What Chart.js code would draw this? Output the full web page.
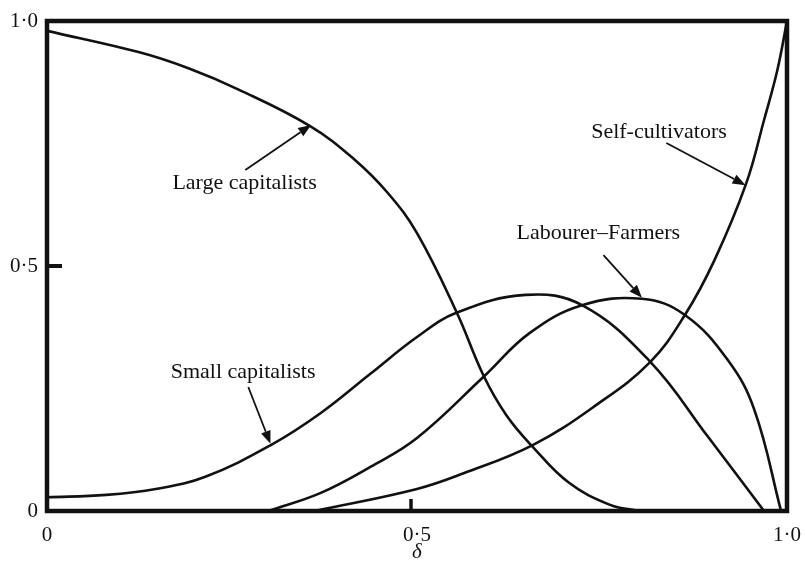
<!DOCTYPE html>
<html>
<head>
<meta charset="utf-8">
<script src="https://cdn.jsdelivr.net/npm/chart.js@4.4.0/dist/chart.umd.min.js"></script>
<style>
  html, body { margin: 0; padding: 0; background: #fff; }
  #wrap { width: 805px; height: 565px; }
</style>
</head>
<body>
<div id="wrap"><canvas id="classes"></canvas></div>
<script>
// values (delta on x, share on y)
const largeX = [0, 0.125, 0.192, 0.259, 0.355, 0.415, 0.46, 0.5, 0.554, 0.59, 0.621, 0.657, 0.705, 0.76, 0.80];
const largeY = [0.98, 0.936, 0.903, 0.86, 0.786, 0.718, 0.65, 0.567, 0.404, 0.276, 0.195, 0.13, 0.058, 0.013, 0];

const smallX = [0, 0.08, 0.147, 0.214, 0.303, 0.37, 0.437, 0.5, 0.554, 0.647, 0.723, 0.815, 0.893, 0.969];
const smallY = [0.028, 0.033, 0.045, 0.07, 0.135, 0.2, 0.28, 0.355, 0.405, 0.441, 0.42, 0.305, 0.152, 0];

const labX = [0.299, 0.37, 0.437, 0.5, 0.59, 0.652, 0.723, 0.804, 0.862, 0.92, 0.956, 0.992];
const labY = [0, 0.037, 0.09, 0.149, 0.274, 0.363, 0.42, 0.433, 0.4, 0.308, 0.206, 0];

const selfX = [0.362, 0.5, 0.563, 0.657, 0.741, 0.815, 0.862, 0.902, 0.945, 0.969, 0.987, 1.0];
const selfY = [0, 0.045, 0.077, 0.135, 0.215, 0.304, 0.4, 0.512, 0.669, 0.798, 0.9, 1.0];

const tickValues = [0, 0.5, 1];
const tickText = ['0', '0·5', '1·0'];

// labels with arrows, in data units
const notes = [
  { text: 'Large capitalists', at: [0.267, 0.669], from: [0.268, 0.696], to: [0.357, 0.788] },
  { text: 'Self-cultivators', at: [0.827, 0.773], from: [0.837, 0.751], to: [0.944, 0.665] },
  { text: 'Labourer–Farmers', at: [0.745, 0.567], from: [0.752, 0.522], to: [0.804, 0.435] },
  { text: 'Small capitalists', at: [0.265, 0.284], from: [0.272, 0.253], to: [0.302, 0.137] }
];

const serif = '"Liberation Serif", "DejaVu Serif", serif';
const ink = '#111';

function pts(xs, ys) {
  return xs.map((x, i) => ({ x: x, y: ys[i] }));
}

function curve(label, xs, ys) {
  return {
    label: label,
    data: pts(xs, ys),
    borderColor: ink,
    borderWidth: 2.6,
    pointRadius: 0,
    fill: false,
    showLine: true,
    tension: 0.4
  };
}

const frameAndNotes = {
  id: 'frameAndNotes',
  afterDatasetsDraw(chart) {
    const ctx = chart.ctx;
    const a = chart.chartArea;
    const sx = chart.scales.x, sy = chart.scales.y;
    ctx.save();
    ctx.strokeStyle = ink;
    ctx.fillStyle = ink;
    ctx.lineWidth = 4.5;
    ctx.lineJoin = 'miter';
    ctx.strokeRect(a.left, a.top, a.right - a.left, a.bottom - a.top);

    // inward ticks at 0.5
    ctx.lineWidth = 4;
    const ty = sy.getPixelForValue(0.5);
    ctx.beginPath();
    ctx.moveTo(a.left, ty);
    ctx.lineTo(a.left + 15, ty);
    ctx.stroke();
    ctx.lineWidth = 3.5;
    const tx = sx.getPixelForValue(0.5) - 6;
    ctx.beginPath();
    ctx.moveTo(tx, a.bottom);
    ctx.lineTo(tx, a.bottom - 12);
    ctx.stroke();

    ctx.font = '22px ' + serif;
    ctx.textAlign = 'center';
    ctx.textBaseline = 'middle';
    notes.forEach(n => {
      ctx.fillText(n.text, sx.getPixelForValue(n.at[0]), sy.getPixelForValue(n.at[1]));
      const x1 = sx.getPixelForValue(n.from[0]), y1 = sy.getPixelForValue(n.from[1]);
      const x2 = sx.getPixelForValue(n.to[0]), y2 = sy.getPixelForValue(n.to[1]);
      const ang = Math.atan2(y2 - y1, x2 - x1);
      const hl = 13, hw = 5;
      ctx.lineWidth = 1.8;
      ctx.beginPath();
      ctx.moveTo(x1, y1);
      ctx.lineTo(x2 - hl * Math.cos(ang), y2 - hl * Math.sin(ang));
      ctx.stroke();
      ctx.beginPath();
      ctx.moveTo(x2, y2);
      ctx.lineTo(x2 - hl * Math.cos(ang) + hw * Math.sin(ang), y2 - hl * Math.sin(ang) - hw * Math.cos(ang));
      ctx.lineTo(x2 - hl * Math.cos(ang) - hw * Math.sin(ang), y2 - hl * Math.sin(ang) + hw * Math.cos(ang));
      ctx.closePath();
      ctx.fill();
    });
    ctx.restore();
  }
};

function tickLabel(v) {
  const i = tickValues.indexOf(v);
  return i >= 0 ? tickText[i] : '';
}

new Chart(document.getElementById('classes'), {
  type: 'scatter',
  data: {
    datasets: [
      curve('Large capitalists', largeX, largeY),
      curve('Small capitalists', smallX, smallY),
      curve('Labourer–Farmers', labX, labY),
      curve('Self-cultivators', selfX, selfY)
    ]
  },
  options: {
    responsive: true,
    maintainAspectRatio: false,
    animation: false,
    devicePixelRatio: 1,
    layout: { padding: { top: 21, right: 12, left: 0, bottom: 0 } },
    plugins: { legend: { display: false }, tooltip: { enabled: false } },
    scales: {
      x: {
        type: 'linear',
        min: 0,
        max: 1,
        afterBuildTicks: s => { s.ticks = tickValues.map(v => ({ value: v })); },
        afterFit: s => { s.height = 54; },
        grid: { display: false },
        border: { display: false },
        ticks: {
          autoSkip: false,
          maxRotation: 0,
          padding: 4,
          color: ink,
          font: { family: serif, size: 21 },
          callback: tickLabel
        },
        title: {
          display: true,
          text: 'δ',
          color: ink,
          font: { family: serif, size: 21, style: 'italic' },
          padding: { top: 0, bottom: 0 }
        }
      },
      y: {
        type: 'linear',
        min: 0,
        max: 1,
        afterBuildTicks: s => { s.ticks = tickValues.map(v => ({ value: v })); },
        afterFit: s => { s.width = 47; },
        grid: { display: false },
        border: { display: false },
        ticks: {
          autoSkip: false,
          padding: 1,
          color: ink,
          font: { family: serif, size: 21 },
          callback: tickLabel
        }
      }
    }
  },
  plugins: [frameAndNotes]
});
</script>
</body>
</html>
